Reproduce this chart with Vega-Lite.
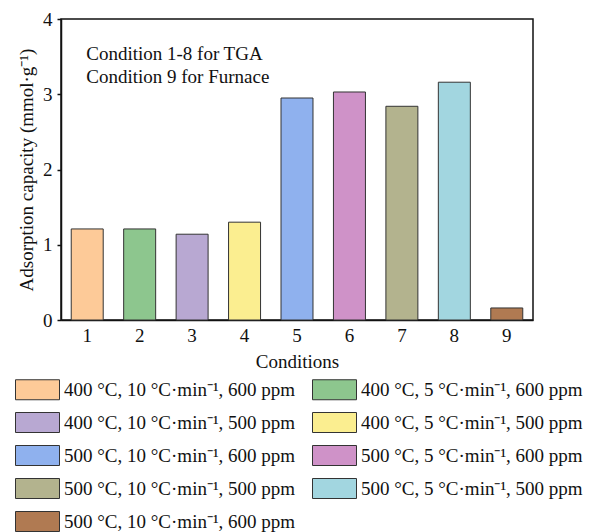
{
  "$schema": "https://vega.github.io/schema/vega-lite/v6.json",
  "width": 472,
  "height": 301,
  "autosize": {"type": "none"},
  "padding": {"left": 61, "top": 19, "right": 63, "bottom": 212},
  "background": "white",
  "config": {
    "font": "Liberation Serif",
    "view": {"stroke": "#111", "strokeWidth": 1.5},
    "axis": {"grid": false, "domainColor": "#111", "domainWidth": 1.5, "tickColor": "#111", "tickWidth": 1.5, "labelFont": "Liberation Serif", "titleFont": "Liberation Serif", "labelFontSize": 19, "titleFontSize": 19, "labelColor": "#111", "titleColor": "#111", "titleFontWeight": "normal"},
    "legend": {"labelFont": "Liberation Serif", "labelFontSize": 19, "labelColor": "#111"}
  },
  "datasets": {
    "bars": [
      {"Condition": "1", "Setting": "400 °C, 10 °C·min⁻¹, 600 ppm", "Capacity": 1.21},
      {"Condition": "2", "Setting": "400 °C, 5 °C·min⁻¹, 600 ppm", "Capacity": 1.21},
      {"Condition": "3", "Setting": "400 °C, 10 °C·min⁻¹, 500 ppm", "Capacity": 1.14},
      {"Condition": "4", "Setting": "400 °C, 5 °C·min⁻¹, 500 ppm", "Capacity": 1.30},
      {"Condition": "5", "Setting": "500 °C, 10 °C·min⁻¹, 600 ppm", "Capacity": 2.95},
      {"Condition": "6", "Setting": "500 °C, 5 °C·min⁻¹, 600 ppm", "Capacity": 3.03},
      {"Condition": "7", "Setting": "500 °C, 10 °C·min⁻¹, 500 ppm", "Capacity": 2.84},
      {"Condition": "8", "Setting": "500 °C, 5 °C·min⁻¹, 500 ppm", "Capacity": 3.16},
      {"Condition": "9", "Setting": "500 °C, 10 °C·min⁻¹, 600 ppm ", "Capacity": 0.16}
    ],
    "notes": [
      {"Condition": "1", "Capacity": 3.54, "Text": "Condition 1-8 for TGA"},
      {"Condition": "1", "Capacity": 3.23, "Text": "Condition 9 for Furnace"}
    ]
  },
  "layer": [
    {
      "data": {"name": "bars"},
      "mark": {"type": "bar", "stroke": "#333", "strokeWidth": 1},
      "encoding": {
        "x": {
          "field": "Condition", "type": "nominal", "sort": ["1","2","3","4","5","6","7","8","9"],
          "scale": {"paddingInner": 0.39, "paddingOuter": 0.195},
          "axis": {"title": "Conditions", "labelAngle": 0, "tickSize": -5, "labelPadding": 11, "titlePadding": 7}
        },
        "y": {
          "field": "Capacity", "type": "quantitative",
          "scale": {"domain": [0, 4], "nice": false},
          "axis": {"title": "Adsorption capacity (mmol·g⁻¹)", "values": [0,1,2,3,4], "format": "d", "tickSize": 4, "labelPadding": 5, "titlePadding": 6}
        },
        "color": {
          "field": "Setting", "type": "nominal",
          "sort": null,
          "scale": {
            "domain": ["400 °C, 10 °C·min⁻¹, 600 ppm", "400 °C, 5 °C·min⁻¹, 600 ppm", "400 °C, 10 °C·min⁻¹, 500 ppm", "400 °C, 5 °C·min⁻¹, 500 ppm", "500 °C, 10 °C·min⁻¹, 600 ppm", "500 °C, 5 °C·min⁻¹, 600 ppm", "500 °C, 10 °C·min⁻¹, 500 ppm", "500 °C, 5 °C·min⁻¹, 500 ppm", "500 °C, 10 °C·min⁻¹, 600 ppm "],
            "range": ["#FDCA98", "#8DC68E", "#B8A8D2", "#FBEE90", "#8FB1EE", "#CF92C8", "#B3B38E", "#A2D6E0", "#B07A52"]
          },
          "legend": {
            "title": null, "orient": "none", "legendX": -34, "legendY": 360,
            "columns": 2, "direction": "horizontal",
            "symbolType": "M-2.2,-1L2.2,-1L2.2,1L-2.2,1Z",
            "symbolSize": 400, "symbolStrokeColor": "#333", "symbolStrokeWidth": 1, "symbolOpacity": 1,
            "labelOffset": 16, "rowPadding": 8, "columnPadding": 14, "labelLimit": 400
          }
        }
      }
    },
    {
      "data": {"name": "notes"},
      "mark": {"type": "text", "align": "left", "baseline": "middle", "fontSize": 19, "color": "#111", "dx": -1},
      "encoding": {
        "x": {"field": "Condition", "type": "nominal"},
        "y": {"field": "Capacity", "type": "quantitative"},
        "text": {"field": "Text"}
      }
    }
  ]
}
